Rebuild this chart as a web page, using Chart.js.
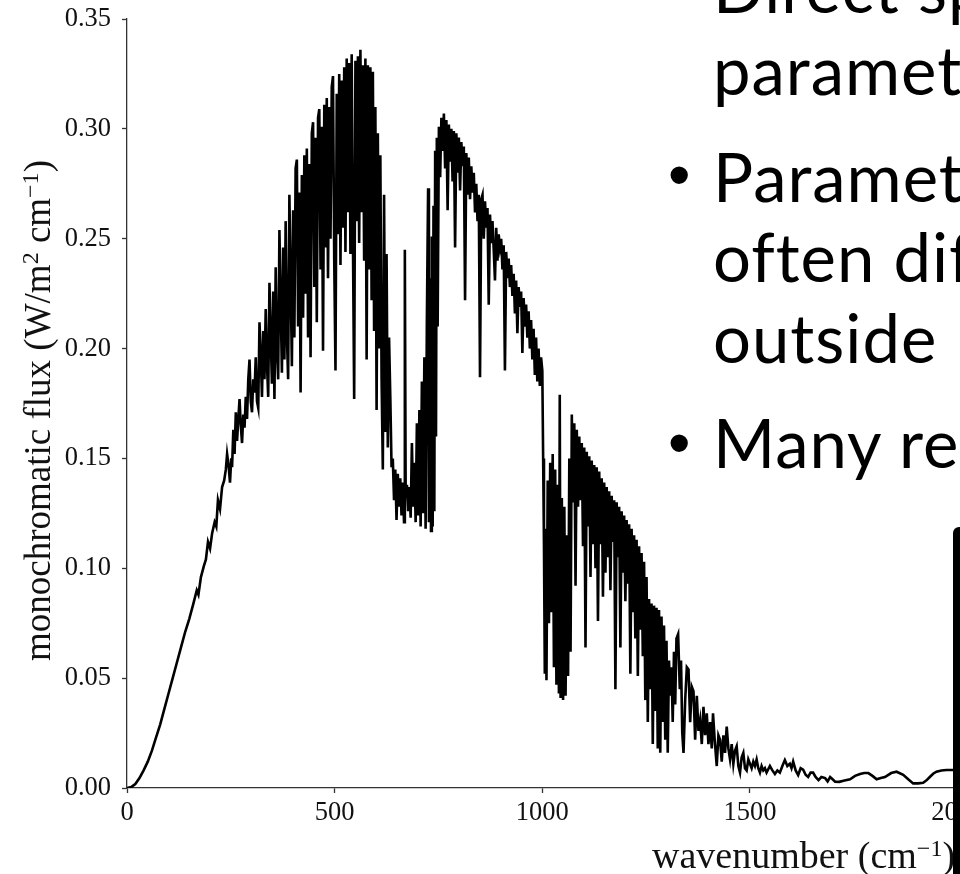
<!DOCTYPE html>
<html>
<head>
<meta charset="utf-8">
<script src="https://cdn.jsdelivr.net/npm/chart.js@4.4.1/dist/chart.umd.min.js"></script>
<style>
  html, body { margin: 0; padding: 0; width: 960px; height: 874px; overflow: hidden; background: #fff; }
  #wrap { position: absolute; left: 0; top: 0; width: 1560px; height: 874px; }
  .axlab {
    position: absolute; white-space: nowrap; color: #111;
    font: 37px "Liberation Serif", "Times New Roman", serif; line-height: 1;
  }
  .axlab span { position: relative; top: -12px; font-size: 24px; }
  .ylab { left: 0; top: 0; transform-origin: 0 0; transform: translate(19px, 661px) rotate(-90deg); }
  .xlab { left: 652px; top: 836px; font-size: 38px; }
  .slide {
    position: absolute; left: 713px; white-space: nowrap; color: #000;
    font: 67px Lato, "Open Sans", sans-serif; line-height: 1.2; letter-spacing: 1px;
  }
  .bullet {
    position: absolute; left: 668px; white-space: nowrap; color: #000;
    font: 64px "Liberation Sans", Arial, sans-serif; line-height: 1.2;
  }
  .bar {
    position: absolute; left: 953px; top: 527px; width: 20px; height: 360px;
    background: #000; border-top-left-radius: 6px;
  }
</style>
</head>
<body>
<div id="wrap"><canvas id="flux" width="1560" height="874"></canvas></div>

<div class="axlab ylab">monochromatic flux (W/m<span>2</span> cm<span>−1</span>)</div>
<div class="axlab xlab">wavenumber (cm<span>−1</span>)</div>

<div class="slide" style="top:-53px">Direct sp</div>
<div class="slide" style="top:29px">paramet</div>
<div class="bullet" style="top:137px">•</div>
<div class="slide" style="top:136px">Paramet</div>
<div class="slide" style="top:216px">often dif</div>
<div class="slide" style="top:297px">outside</div>
<div class="bullet" style="top:405px">•</div>
<div class="slide" style="top:402px">Many re</div>
<div class="bar"></div>

<script>
// wavenumber (cm^-1), flux (W/m2 cm^-1), band by band
const planckRise = [
  [0, 0], [10, 0.0004], [20, 0.0018], [30, 0.0045], [40, 0.008], [50, 0.012], [60, 0.017],
  [70, 0.023], [80, 0.029], [90, 0.036], [100, 0.043], [110, 0.050], [120, 0.057], [130, 0.064],
  [140, 0.071], [150, 0.077], [160, 0.084], [168, 0.090], [172, 0.088], [178, 0.096], [185, 0.101],
  [190, 0.104], [195, 0.112], [200, 0.109], [205, 0.116], [211, 0.121], [215, 0.119], [219, 0.131],
  [224, 0.127], [229, 0.137], [234, 0.140], [238, 0.145], [241, 0.152], [245, 0.146], [248, 0.139],
];

const h2oRotBand = [
  [251, 0.150], [253, 0.146], [256, 0.163], [259, 0.152], [262, 0.171], [265, 0.158], [268, 0.168],
  [271, 0.177], [274, 0.165], [277, 0.157], [280, 0.170], [283, 0.164], [286, 0.178], [289, 0.168],
  [292, 0.186], [295, 0.195], [298, 0.176], [301, 0.171], [304, 0.186], [307, 0.180], [310, 0.196],
  [313, 0.176], [316, 0.173], [319, 0.212], [322, 0.197], [325, 0.178], [328, 0.208], [331, 0.186],
  [334, 0.218], [337, 0.193], [340, 0.178], [343, 0.230], [346, 0.205], [349, 0.184], [352, 0.226],
  [355, 0.177], [358, 0.237], [361, 0.199], [364, 0.186], [367, 0.254], [370, 0.221], [373, 0.189],
  [376, 0.246], [379, 0.195], [382, 0.258], [385, 0.206], [388, 0.186], [391, 0.270], [394, 0.232],
  [397, 0.192], [400, 0.263], [403, 0.205], [406, 0.282], [409, 0.286], [412, 0.210], [415, 0.271],
  [418, 0.180], [421, 0.279], [424, 0.214], [427, 0.288], [430, 0.225], [433, 0.291], [436, 0.205],
  [439, 0.284], [442, 0.196], [445, 0.298], [448, 0.303], [451, 0.228], [454, 0.296], [457, 0.212],
  [460, 0.305], [463, 0.309], [466, 0.236], [469, 0.301], [472, 0.199], [475, 0.311], [478, 0.246],
  [481, 0.314], [484, 0.232], [487, 0.310], [490, 0.250], [493, 0.319], [496, 0.324], [499, 0.240],
  [502, 0.190], [505, 0.316], [508, 0.252], [511, 0.325], [514, 0.238], [517, 0.322], [520, 0.255],
  [523, 0.328], [526, 0.244], [529, 0.332], [532, 0.262], [535, 0.330], [538, 0.243], [541, 0.334],
  [544, 0.250], [547, 0.177], [550, 0.331], [553, 0.258], [556, 0.333], [559, 0.248], [562, 0.336],
  [565, 0.262], [568, 0.329], [571, 0.240], [574, 0.332], [577, 0.195], [580, 0.329], [583, 0.236],
  [586, 0.328], [589, 0.222], [592, 0.326], [595, 0.208], [598, 0.310], [601, 0.172], [604, 0.298],
  [607, 0.200], [610, 0.288], [613, 0.186], [616, 0.145], [619, 0.270], [622, 0.162], [625, 0.243],
  [628, 0.155], [631, 0.205], [634, 0.178], [637, 0.146],
];

const co2Band = [
  [640, 0.150], [643, 0.131], [646, 0.145], [649, 0.122], [652, 0.143], [655, 0.128], [658, 0.141],
  [661, 0.124], [664, 0.139], [667, 0.121], [669, 0.245], [671, 0.132], [674, 0.138], [677, 0.126],
  [680, 0.137], [683, 0.123], [686, 0.157], [689, 0.128], [692, 0.148], [695, 0.121], [698, 0.166],
  [701, 0.124], [704, 0.172], [707, 0.119], [710, 0.185], [713, 0.125], [716, 0.196], [719, 0.118],
  [722, 0.212], [725, 0.273], [727, 0.121], [730, 0.232], [732, 0.117], [734, 0.251], [736, 0.119],
  [738, 0.265], [740, 0.126], [742, 0.290], [744, 0.160], [746, 0.296], [748, 0.210],
];

const windowBand = [
  [751, 0.301], [754, 0.278], [757, 0.305], [760, 0.290], [763, 0.307], [766, 0.282], [769, 0.304],
  [772, 0.263], [775, 0.302], [778, 0.285], [781, 0.300], [784, 0.276], [787, 0.299], [790, 0.246],
  [793, 0.298], [796, 0.280], [799, 0.296], [802, 0.272], [805, 0.294], [808, 0.283], [811, 0.292],
  [814, 0.222], [817, 0.289], [820, 0.270], [823, 0.287], [826, 0.268], [829, 0.283], [832, 0.271],
  [835, 0.280], [838, 0.262], [841, 0.275], [844, 0.258], [847, 0.270], [850, 0.187], [853, 0.268],
  [856, 0.270], [859, 0.250], [862, 0.267], [865, 0.255], [868, 0.264], [871, 0.220], [874, 0.261],
  [877, 0.248], [880, 0.258], [883, 0.245], [886, 0.231], [889, 0.255], [892, 0.240], [895, 0.252],
  [898, 0.246], [901, 0.250], [904, 0.236], [907, 0.247], [910, 0.190], [913, 0.244], [916, 0.232],
  [919, 0.241], [922, 0.228], [925, 0.238], [928, 0.224], [931, 0.234], [934, 0.216], [937, 0.231],
  [940, 0.207], [943, 0.228], [946, 0.219], [949, 0.226], [952, 0.198], [955, 0.223], [958, 0.210],
  [961, 0.220], [964, 0.205], [967, 0.217], [970, 0.200], [973, 0.213], [976, 0.195], [979, 0.209],
  [982, 0.188], [985, 0.205], [988, 0.185], [991, 0.200], [994, 0.183], [997, 0.196], [1000, 0.190],
];

const ozoneBand = [
  [1002, 0.150], [1004, 0.110], [1006, 0.052], [1008, 0.118], [1010, 0.049], [1013, 0.140],
  [1016, 0.075], [1019, 0.148], [1022, 0.080], [1025, 0.152], [1028, 0.055], [1031, 0.145],
  [1034, 0.047], [1037, 0.138], [1040, 0.043], [1042, 0.179], [1044, 0.041], [1047, 0.132],
  [1050, 0.040], [1053, 0.128], [1056, 0.042], [1059, 0.115], [1062, 0.051], [1065, 0.150],
  [1068, 0.062],
];

const h2oVibBand = [
  [1071, 0.170], [1074, 0.130], [1077, 0.166], [1080, 0.092], [1083, 0.163], [1086, 0.128],
  [1089, 0.160], [1092, 0.131], [1095, 0.157], [1098, 0.110], [1101, 0.155], [1104, 0.064],
  [1107, 0.153], [1110, 0.119], [1113, 0.151], [1116, 0.096], [1119, 0.149], [1122, 0.111],
  [1125, 0.147], [1128, 0.100], [1131, 0.146], [1134, 0.076], [1137, 0.144], [1140, 0.111],
  [1143, 0.141], [1146, 0.087], [1149, 0.139], [1152, 0.098], [1155, 0.137], [1158, 0.105],
  [1161, 0.135], [1164, 0.090], [1167, 0.133], [1170, 0.112], [1173, 0.131], [1176, 0.045],
  [1179, 0.130], [1182, 0.105], [1185, 0.128], [1188, 0.064], [1191, 0.126], [1194, 0.098],
  [1197, 0.124], [1200, 0.085], [1203, 0.122], [1206, 0.093], [1209, 0.120], [1212, 0.052],
  [1215, 0.118], [1218, 0.080], [1221, 0.115], [1224, 0.068], [1227, 0.113], [1230, 0.051],
  [1233, 0.110], [1236, 0.072], [1239, 0.107], [1242, 0.060], [1245, 0.103], [1248, 0.040],
  [1251, 0.096], [1254, 0.030], [1257, 0.086], [1260, 0.045], [1263, 0.084], [1266, 0.020],
  [1269, 0.083], [1272, 0.035], [1275, 0.082], [1278, 0.018], [1281, 0.081], [1284, 0.016],
  [1287, 0.078], [1290, 0.030], [1293, 0.074], [1296, 0.022], [1299, 0.067], [1302, 0.016],
  [1305, 0.058], [1308, 0.042], [1311, 0.055], [1314, 0.030], [1317, 0.062], [1320, 0.038],
  [1323, 0.068], [1327, 0.070], [1331, 0.045], [1334, 0.058], [1337, 0.025], [1340, 0.016],
  [1344, 0.040], [1348, 0.055],
];

const farWing = [
  [1352, 0.054], [1356, 0.030], [1360, 0.046], [1364, 0.044], [1368, 0.022], [1372, 0.042],
  [1376, 0.026], [1380, 0.031], [1384, 0.020], [1388, 0.037], [1392, 0.024], [1396, 0.034],
  [1400, 0.020], [1404, 0.030], [1408, 0.018], [1411, 0.034], [1415, 0.022], [1420, 0.010],
  [1424, 0.024], [1428, 0.022], [1432, 0.012], [1436, 0.024], [1440, 0.016], [1444, 0.028],
  [1448, 0.018], [1452, 0.013], [1456, 0.020], [1460, 0.011], [1464, 0.017], [1468, 0.019],
  [1472, 0.010], [1476, 0.007], [1480, 0.014], [1484, 0.016], [1488, 0.009], [1492, 0.008],
  [1496, 0.013], [1500, 0.011], [1504, 0.009], [1508, 0.012], [1512, 0.010], [1516, 0.013],
  [1520, 0.009], [1524, 0.007], [1528, 0.010], [1532, 0.008], [1536, 0.009], [1540, 0.007],
  [1548, 0.010], [1554, 0.008], [1560, 0.0064], [1566, 0.008], [1572, 0.007], [1578, 0.010],
  [1584, 0.0127], [1590, 0.010], [1596, 0.011], [1600, 0.009], [1604, 0.012], [1610, 0.008],
  [1616, 0.0059], [1622, 0.009], [1628, 0.0083], [1634, 0.006], [1640, 0.005], [1646, 0.007],
  [1652, 0.007], [1658, 0.005], [1665, 0.0036], [1672, 0.005], [1681, 0.0045], [1687, 0.003],
  [1693, 0.005], [1699, 0.004], [1705, 0.0029], [1715, 0.0028], [1725, 0.0033], [1741, 0.004],
  [1753, 0.0055], [1765, 0.0064], [1775, 0.0068], [1785, 0.0068], [1795, 0.0055], [1805, 0.004],
  [1815, 0.0045], [1825, 0.005], [1840, 0.0068], [1853, 0.0074], [1869, 0.006], [1881, 0.004],
  [1893, 0.0021], [1905, 0.0021], [1917, 0.0024], [1925, 0.0035], [1933, 0.005], [1941, 0.0065],
  [1949, 0.0074], [1961, 0.0080], [1973, 0.0082], [1989, 0.0082], [2005, 0.0080], [2020, 0.0072],
  [2040, 0.0060],
];

const yTicks = [0, 0.05, 0.1, 0.15, 0.2, 0.25, 0.3, 0.35];
const xTicks = [0, 500, 1000, 1500, 2000, 2500, 3000];

const spectrum = [].concat(planckRise, h2oRotBand, co2Band, windowBand, ozoneBand, h2oVibBand, farWing)
  .map(([x, y]) => ({ x, y }));

Chart.defaults.font.family = "'Liberation Serif', 'Times New Roman', serif";
Chart.defaults.color = "#111";

const axisColor = "#333";

new Chart(document.getElementById("flux"), {
  type: "line",
  data: {
    datasets: [
      {
        data: spectrum,
        borderColor: "#000",
        borderWidth: 2.6,
        pointRadius: 0,
        tension: 0,
        fill: false,
      },
    ],
  },
  options: {
    responsive: false,
    animation: false,
    events: [],
    layout: { padding: { top: 19, right: 77, bottom: 0, left: 0 } },
    plugins: { legend: { display: false }, tooltip: { enabled: false } },
    scales: {
      x: {
        type: "linear",
        min: 0,
        max: 3265,
        afterFit: (scale) => { scale.height = 86; },
        afterBuildTicks: (scale) => { scale.ticks = xTicks.map((value) => ({ value })); },
        border: { display: true, color: axisColor, width: 1.3 },
        grid: { drawOnChartArea: false, drawTicks: true, tickLength: 5, tickColor: axisColor, tickWidth: 1.3 },
        ticks: { font: { size: 26.5 }, padding: 4, maxRotation: 0, callback: (v) => String(v) },
      },
      y: {
        min: 0,
        max: 0.35,
        afterFit: (scale) => {
          scale.width = 127;
          // labels at the ends may overhang; keep the plot top at the 0.35 tick
          scale.paddingTop = 0;
          scale.paddingBottom = 0;
        },
        afterBuildTicks: (scale) => { scale.ticks = yTicks.map((value) => ({ value })); },
        border: { display: true, color: axisColor, width: 1.3 },
        grid: { drawOnChartArea: false, drawTicks: true, tickLength: 5, tickColor: axisColor, tickWidth: 1.3 },
        ticks: { font: { size: 26.5 }, padding: 11, callback: (v) => v.toFixed(2) },
      },
    },
  },
});
</script>
</body>
</html>
